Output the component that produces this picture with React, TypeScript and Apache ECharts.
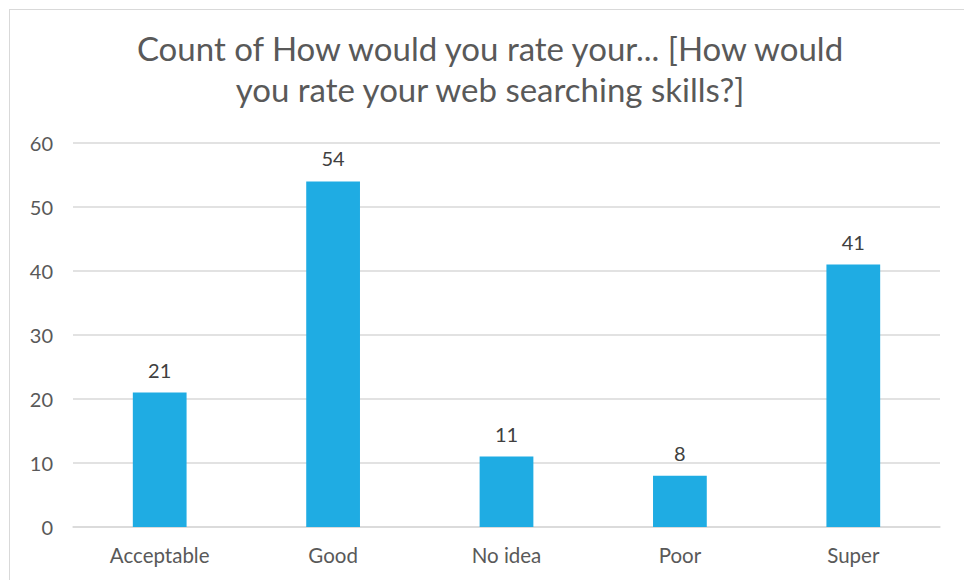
import React, { useEffect, useRef } from "react";
import * as echarts from "echarts";

const categories = ["Acceptable", "Good", "No idea", "Poor", "Super"];
const counts = [21, 54, 11, 8, 41];
const titleLines = ["Count of How would you rate your... [How would", "you rate your web searching skills?]"];

const FONT = "Lato, 'Noto Sans', sans-serif";

export default function App() {
  const ref = useRef<HTMLDivElement>(null);
  useEffect(() => {
    if (!ref.current) return;
    const chart = echarts.init(ref.current, null, { renderer: "svg" });
    chart.setOption({
      animation: false,
      backgroundColor: "#ffffff",
      title: {
        text: titleLines.join("\n"),
        left: "center",
        top: 12,
        textStyle: {
          fontFamily: FONT,
          fontSize: 33,
          fontWeight: "normal",
          color: "#595959",
          lineHeight: 41,
        },
      },
      grid: { left: 63, right: 30, top: 133, bottom: 58, containLabel: false },
      xAxis: {
        type: "category",
        data: categories,
        axisLine: { show: true, lineStyle: { color: "#d9d9d9", width: 1.5 } },
        axisTick: { show: false },
        axisLabel: { color: "#595959", fontFamily: FONT, fontSize: 20.5, margin: 17 },
      },
      yAxis: {
        type: "value",
        min: 0,
        max: 60,
        interval: 10,
        axisLine: { show: false },
        axisTick: { show: false },
        splitLine: { lineStyle: { color: "#d9d9d9", width: 1.5 } },
        axisLabel: { color: "#595959", fontFamily: FONT, fontSize: 20, margin: 20 },
      },
      series: [
        {
          type: "bar",
          data: counts,
          barWidth: "31%",
          itemStyle: { color: "#1FACE3" },
          label: {
            show: true,
            position: "top",
            distance: 13,
            color: "#404040",
            fontFamily: FONT,
            fontSize: 20,
          },
        },
      ],
    });
    return () => chart.dispose();
  }, []);
  return (
    <div
      style={{
        position: "fixed",
        left: 9,
        top: 9,
        width: 960,
        height: 575,
        border: "1px solid #d9d9d9",
        background: "#fff",
      }}
    >
      <div ref={ref} style={{ width: 960, height: 575 }} />
    </div>
  );
}
